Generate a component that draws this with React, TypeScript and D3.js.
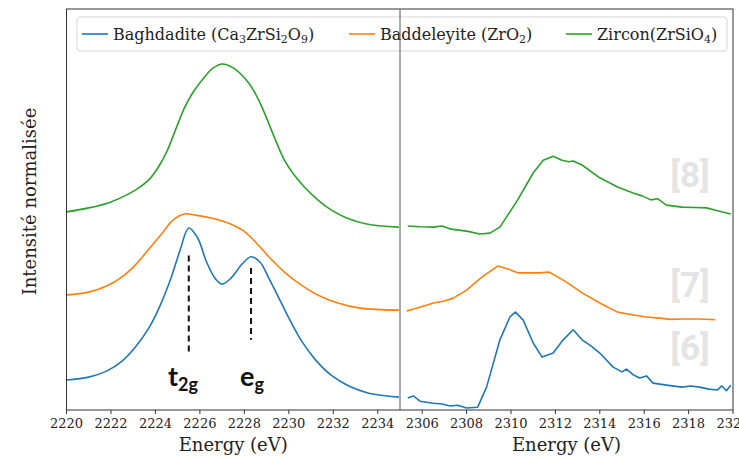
import React from "react";
import * as d3 from "d3";

// ---------- data ----------
const leftTicks = [2220, 2222, 2224, 2226, 2228, 2230, 2232, 2234];
const rightTicks = [2306, 2308, 2310, 2312, 2314, 2316, 2318, 2320];

const greenLeftE = [2220.0, 2221.0, 2222.0, 2222.8, 2223.3, 2223.7, 2224.1, 2224.5, 2224.9, 2225.3, 2225.7, 2226.2, 2226.6, 2227.0, 2227.5, 2228.2, 2228.6, 2229.0, 2229.4, 2229.8, 2230.2, 2230.7, 2231.3, 2231.9, 2232.6, 2233.5, 2234.95];
const greenLeftI = [0.494, 0.504, 0.519, 0.539, 0.556, 0.574, 0.603, 0.643, 0.698, 0.753, 0.793, 0.830, 0.853, 0.863, 0.853, 0.815, 0.778, 0.728, 0.673, 0.623, 0.589, 0.556, 0.524, 0.499, 0.479, 0.464, 0.456];

const orangeLeftE = [2220.0, 2221.0, 2221.8, 2222.5, 2223.1, 2223.7, 2224.3, 2224.8, 2225.3, 2225.8, 2226.5, 2227.3, 2227.9, 2228.5, 2229.1, 2229.8, 2230.5, 2231.3, 2232.2, 2233.2, 2234.95];
const orangeLeftI = [0.287, 0.294, 0.309, 0.332, 0.362, 0.401, 0.441, 0.474, 0.489, 0.486, 0.479, 0.466, 0.449, 0.419, 0.382, 0.344, 0.314, 0.287, 0.267, 0.254, 0.249];

const blueLeftE = [2220.0, 2221.0, 2221.8, 2222.5, 2223.1, 2223.7, 2224.2, 2224.7, 2225.1, 2225.5, 2225.9, 2226.3, 2226.7, 2227.0, 2227.4, 2227.9, 2228.3, 2228.7, 2229.1, 2229.6, 2230.1, 2230.6, 2231.2, 2231.9, 2232.7, 2233.6, 2234.95];
const blueLeftI = [0.075, 0.082, 0.097, 0.122, 0.157, 0.204, 0.259, 0.329, 0.397, 0.454, 0.429, 0.369, 0.327, 0.314, 0.329, 0.364, 0.382, 0.369, 0.329, 0.274, 0.219, 0.170, 0.125, 0.087, 0.060, 0.042, 0.032];

const greenRightE = [2305.35, 2305.9, 2306.5, 2306.9, 2307.3, 2308.0, 2308.6, 2309.05, 2309.5, 2310.3, 2311.0, 2311.45, 2311.9, 2312.3, 2312.6, 2312.8, 2313.2, 2314.0, 2314.8, 2315.5, 2315.9, 2316.3, 2316.6, 2317.0, 2317.7, 2318.3, 2318.8, 2319.3, 2319.9];
const greenRightI = [0.459, 0.457, 0.456, 0.459, 0.451, 0.446, 0.439, 0.441, 0.456, 0.524, 0.591, 0.623, 0.633, 0.623, 0.619, 0.621, 0.611, 0.579, 0.556, 0.541, 0.534, 0.524, 0.527, 0.511, 0.506, 0.505, 0.504, 0.497, 0.489];

const orangeRightE = [2305.3, 2305.9, 2306.5, 2307.0, 2307.4, 2308.0, 2308.7, 2309.4, 2309.9, 2310.3, 2311.3, 2311.7, 2312.1, 2312.5, 2313.2, 2314.0, 2314.8, 2315.5, 2316.1, 2316.7, 2317.2, 2317.7, 2318.5, 2319.2];
const orangeRightI = [0.247, 0.256, 0.267, 0.272, 0.279, 0.299, 0.332, 0.359, 0.351, 0.342, 0.342, 0.344, 0.332, 0.319, 0.292, 0.267, 0.244, 0.237, 0.232, 0.229, 0.226, 0.227, 0.227, 0.225];

const blueRightE = [2305.35, 2305.6, 2305.9, 2306.5, 2306.9, 2307.25, 2307.6, 2308.0, 2308.5, 2308.9, 2309.5, 2309.95, 2310.2, 2310.55, 2311.0, 2311.4, 2311.9, 2312.35, 2312.8, 2313.2, 2313.6, 2314.0, 2314.6, 2315.0, 2315.2, 2315.5, 2315.8, 2316.1, 2316.4, 2317.0, 2317.7, 2318.1, 2318.5, 2318.9, 2319.3, 2319.5, 2319.7, 2319.9];
const blueRightI = [0.030, 0.035, 0.022, 0.017, 0.015, 0.010, 0.012, 0.005, 0.007, 0.057, 0.175, 0.232, 0.244, 0.224, 0.167, 0.132, 0.142, 0.175, 0.200, 0.175, 0.160, 0.142, 0.107, 0.095, 0.102, 0.088, 0.080, 0.085, 0.067, 0.062, 0.057, 0.060, 0.057, 0.052, 0.050, 0.060, 0.048, 0.062];

const seriesNames = ["Baghdadite", "Baddeleyite", "Zircon"];
const colors = ["#1f77b4", "#ff7f0e", "#2ca02c"];

const peakLabels = [
  { main: "t", sub: "2g", e: 2225.5, top: 0.385, bottom: 0.145 },
  { main: "e", sub: "g", e: 2228.3, top: 0.354, bottom: 0.175 },
];
const refLabels = [
  { text: "[8]", i: 0.556 },
  { text: "[7]", i: 0.282 },
  { text: "[6]", i: 0.125 },
];

// ---------- layout ----------
const W = 739;
const H = 458;
const top = 9;
const bottom = 410;
const left = 66.5;
const mid = 400;
const right = 733;

const xL = d3.scaleLinear().domain([2220, 2235]).range([left, mid]);
const xR = d3.scaleLinear().domain([2305, 2320]).range([mid, right]);
const y = d3.scaleLinear().domain([0, 1]).range([bottom, top]);

const zip = (e: number[], v: number[]) => e.map((d, i) => [d, v[i]] as [number, number]);

const serif = "DejaVu Serif, serif";

export default function App() {
  const lineL = d3
    .line<[number, number]>()
    .x((d) => xL(d[0]))
    .y((d) => y(d[1]))
    .curve(d3.curveCatmullRom.alpha(0.5));
  const lineR = d3
    .line<[number, number]>()
    .x((d) => xR(d[0]))
    .y((d) => y(d[1]))
    .curve(d3.curveLinear);

  const leftSeries = [zip(blueLeftE, blueLeftI), zip(orangeLeftE, orangeLeftI), zip(greenLeftE, greenLeftI)];
  const rightSeries = [zip(blueRightE, blueRightI), zip(orangeRightE, orangeRightI), zip(greenRightE, greenRightI)];

  const axisColor = "#333";
  const textColor = "#222";

  const renderTicks = (ticks: number[], sc: d3.ScaleLinear<number, number>) =>
    ticks.map((t) => (
      <g key={t} transform={`translate(${sc(t)},${bottom})`}>
        <line y1={0} y2={4} stroke={axisColor} strokeWidth={1} />
        <text y={18} textAnchor="middle" fontFamily={serif} fontSize={13} fill={textColor}>
          {t}
        </text>
      </g>
    ));

  const legendY = 34;
  const legendItems = [
    { x: 82, color: colors[0], parts: [["Baghdadite (Ca", ""], ["3", "sub"], ["ZrSi", ""], ["2", "sub"], ["O", ""], ["9", "sub"], [")", ""]] },
    { x: 349, color: colors[1], parts: [["Baddeleyite (ZrO", ""], ["2", "sub"], [")", ""]] },
    { x: 566, color: colors[2], parts: [["Zircon(ZrSiO", ""], ["4", "sub"], [")", ""]] },
  ];

  return (
    <svg width={W} height={H} style={{ position: "absolute", left: 0, top: 0, background: "#fff" }}>
      <defs>
        <clipPath id="clipL">
          <rect x={left} y={top} width={mid - left} height={bottom - top} />
        </clipPath>
        <clipPath id="clipR">
          <rect x={mid} y={top} width={right - mid} height={bottom - top} />
        </clipPath>
      </defs>
      <rect x={0} y={0} width={W} height={H} fill="#fff" />

      {/* reference labels */}
      {refLabels.map((r) => (
        <text key={r.text} x={690} y={y(r.i)} textAnchor="middle" fontFamily="Roboto, sans-serif" fontWeight="bold" fontSize={35} fill="#e4e4e4">
          {r.text}
        </text>
      ))}

      {/* curves */}
      <g clipPath="url(#clipL)">
        {leftSeries.map((s, i) => (
          <path key={seriesNames[i]} d={lineL(s) || ""} fill="none" stroke={colors[i]} strokeWidth={1.6} />
        ))}
      </g>
      <g clipPath="url(#clipR)">
        {rightSeries.map((s, i) => (
          <path key={seriesNames[i]} d={lineR(s) || ""} fill="none" stroke={colors[i]} strokeWidth={1.6} strokeLinejoin="round" />
        ))}
      </g>

      {/* peak markers */}
      {peakLabels.map((p) => (
        <g key={p.main + p.sub}>
          <line x1={xL(p.e)} x2={xL(p.e)} y1={y(p.top)} y2={y(p.bottom)} stroke="#111" strokeWidth={2} strokeDasharray="6,4" />
        </g>
      ))}
      <text x={168} y={386} fontFamily="Lato, 'Open Sans', sans-serif" fontWeight="bold" fontSize={27} fill="#111">
        t<tspan fontSize={18} dy={5}>2g</tspan>
      </text>
      <text x={240} y={386} fontFamily="Lato, 'Open Sans', sans-serif" fontWeight="bold" fontSize={27} fill="#111">
        e<tspan fontSize={18} dy={5}>g</tspan>
      </text>

      {/* legend */}
      <rect x={77} y={17} width={650} height={34} rx={3} fill="#fff" fillOpacity={0.85} stroke="#d5d5d5" strokeWidth={1} />
      {legendItems.map((it, i) => (
        <g key={seriesNames[i]}>
          <line x1={it.x} x2={it.x + 26} y1={legendY} y2={legendY} stroke={it.color} strokeWidth={1.6} />
          <text x={it.x + 31} y={legendY + 6} fontFamily={serif} fontSize={16} fill={textColor}>
            {it.parts.map((p, k) =>
              p[1] === "sub" ? (
                <tspan key={k} fontSize={11} dy={3}>
                  {p[0]}
                </tspan>
              ) : (
                <tspan key={k} dy={k > 0 && it.parts[k - 1][1] === "sub" ? -3 : 0}>
                  {p[0]}
                </tspan>
              )
            )}
          </text>
        </g>
      ))}

      {/* frame */}
      <rect x={left} y={top} width={right - left} height={bottom - top} fill="none" stroke={axisColor} strokeWidth={1} />
      <line x1={mid} x2={mid} y1={top} y2={bottom} stroke="#555" strokeWidth={1} />

      {/* axes */}
      {renderTicks(leftTicks, xL)}
      {renderTicks(rightTicks, xR)}
      <text x={(left + mid) / 2} y={451} textAnchor="middle" fontFamily={serif} fontSize={18} fill={textColor}>
        Energy (eV)
      </text>
      <text x={(mid + right) / 2} y={451} textAnchor="middle" fontFamily={serif} fontSize={18} fill={textColor}>
        Energy (eV)
      </text>
      <text transform={`translate(36,${(top + bottom) / 2 - 8}) rotate(-90)`} textAnchor="middle" fontFamily={serif} fontSize={18} fill={textColor}>
        Intensité normalisée
      </text>
    </svg>
  );
}
